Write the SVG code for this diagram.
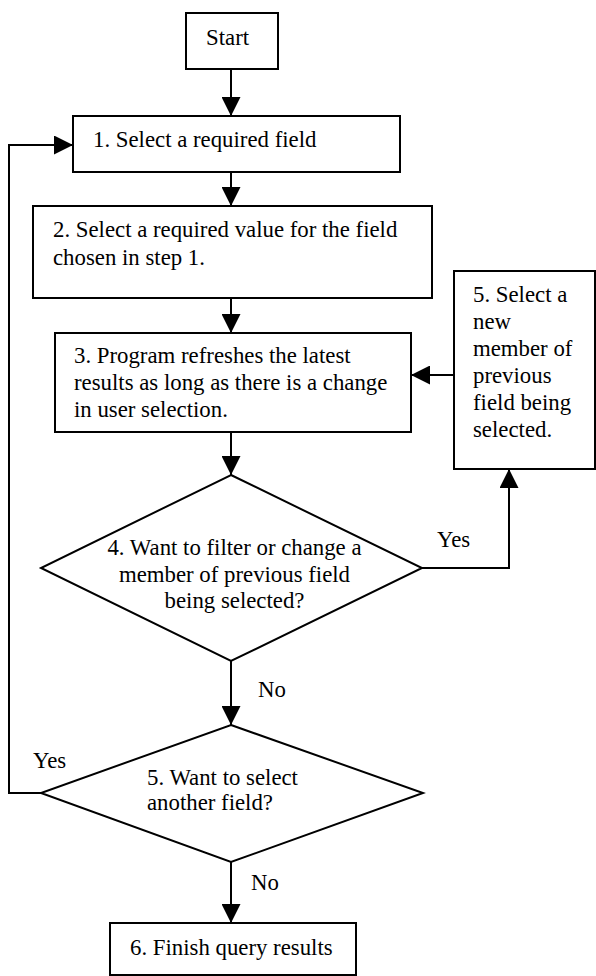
<svg xmlns="http://www.w3.org/2000/svg" width="596" height="976" viewBox="0 0 596 976">
<style>
.n{fill:#fff;stroke:#000;stroke-width:2}
.t{font-family:"Liberation Serif","Times New Roman",serif;font-size:22.8px;fill:#000}
.m{text-anchor:middle}
.c{fill:none;stroke:#000;stroke-width:2}
</style>
<defs>
<marker id="ah" markerUnits="userSpaceOnUse" markerWidth="19" markerHeight="19" refX="19" refY="9.5" orient="auto">
<path d="M0,0 L19,9.5 L0,19 z" fill="#000"/>
</marker>
</defs>
<rect width="596" height="976" fill="#fff"/>
<g id="connectors">
<path class="c" d="M231,69 V116" marker-end="url(#ah)"/>
<path class="c" d="M231,172 V206" marker-end="url(#ah)"/>
<path class="c" d="M231,298 V333" marker-end="url(#ah)"/>
<path class="c" d="M231,432 V475" marker-end="url(#ah)"/>
<path class="c" d="M231,661 V725" marker-end="url(#ah)"/>
<path class="c" d="M231,862 V923" marker-end="url(#ah)"/>
<path class="c" d="M422,568 H509 V469" marker-end="url(#ah)"/>
<path class="c" d="M454,375 H411" marker-end="url(#ah)"/>
<path class="c" d="M41,793 H9 V145 H73" marker-end="url(#ah)"/>
<text class="t" x="437" y="547">Yes</text>
<text class="t" x="258" y="697">No</text>
<text class="t" x="33" y="768">Yes</text>
<text class="t" x="251" y="890">No</text>
</g>
<g id="start">
<rect class="n" x="186" y="13" width="92" height="56"/>
<text class="t" x="206" y="45">Start</text>
</g>
<g id="step1">
<rect class="n" x="73" y="116" width="327" height="56"/>
<text class="t" x="93" y="147">1. Select a required field</text>
</g>
<g id="step2">
<rect class="n" x="33" y="206" width="399" height="92"/>
<text class="t" x="53" y="237">2. Select a required value for the field</text>
<text class="t" x="53" y="265">chosen in step 1.</text>
</g>
<g id="step3">
<rect class="n" x="55" y="333" width="356" height="99"/>
<text class="t" x="74" y="363">3. Program refreshes the latest</text>
<text class="t" x="74" y="390">results as long as there is a change</text>
<text class="t" x="74" y="417">in user selection.</text>
</g>
<g id="step5a">
<rect class="n" x="454" y="271" width="141" height="198"/>
<text class="t" x="473" y="302">5. Select a</text>
<text class="t" x="473" y="329">new</text>
<text class="t" x="473" y="356">member of</text>
<text class="t" x="473" y="383">previous</text>
<text class="t" x="473" y="410">field being</text>
<text class="t" x="473" y="437">selected.</text>
</g>
<g id="decision4">
<polygon class="n" points="231,475 422,568 231,661 41,568"/>
<text class="t m" x="234.5" y="555">4. Want to filter or change a</text>
<text class="t m" x="234.5" y="582">member of previous field</text>
<text class="t m" x="234.5" y="608">being selected?</text>
</g>
<g id="decision5">
<polygon class="n" points="231,725 423,793 231,862 41,793"/>
<text class="t" x="147" y="785">5. Want to select</text>
<text class="t" x="147" y="810">another field?</text>
</g>
<g id="step6">
<rect class="n" x="110" y="923" width="246" height="52"/>
<text class="t" x="130" y="955">6. Finish query results</text>
</g>
</svg>
